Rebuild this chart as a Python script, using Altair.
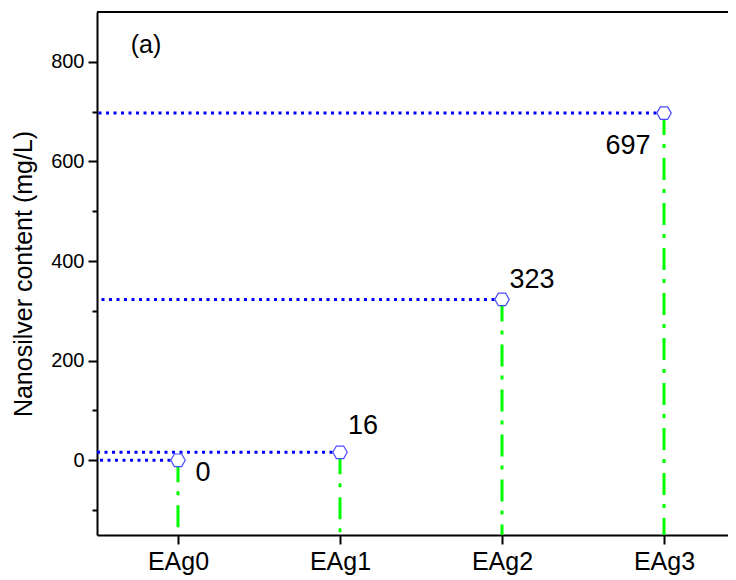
import altair as alt
import pandas as pd

categories = ["EAg0", "EAg1", "EAg2", "EAg3"]
values = [0, 16, 323, 697]
labels = ["0", "16", "323", "697"]
panel_label = ["(a)"]

df = pd.DataFrame({"idx": list(range(len(categories))), "cat": categories,
                   "value": values, "label": labels})
df_panel = pd.DataFrame({"t": panel_label})

W, H = 631, 523
FONT = "Liberation Sans"
XMIN, XMAX = -0.5, 3.395
YMIN, YMAX = -150, 900

hexagon = "M-1,0L-0.5,-0.866L0.5,-0.866L1,0L0.5,0.866L-0.5,0.866Z"

label_expr = "[" + ",".join("'%s'" % c for c in categories) + "][datum.value]"

x_enc = alt.X("idx:Q", scale=alt.Scale(domain=[XMIN, XMAX], nice=False, zero=False),
              axis=alt.Axis(values=list(range(len(categories))), labelExpr=label_expr,
                            title=None, grid=False, domainColor="black", domainWidth=2,
                            tickColor="black", tickWidth=2, tickSize=9,
                            labelFont=FONT, labelFontSize=25, labelColor="black",
                            labelPadding=5))
y_enc = alt.Y("value:Q", scale=alt.Scale(domain=[YMIN, YMAX], nice=False, zero=False),
              axis=alt.Axis(values=list(range(-100, 900, 100)),
                            labelExpr="datum.value % 200 === 0 ? datum.label : ''",
                            title="Nanosilver content (mg/L)", grid=False,
                            domainColor="black", domainWidth=2,
                            tickColor="black", tickWidth=2,
                            tickSize={"condition": {"test": "datum.value % 200 === 0", "value": 9}, "value": 5},
                            labelFont=FONT, labelFontSize=20, labelColor="black",
                            labelPadding=4, titleFont=FONT, titleFontSize=25,
                            titleFontWeight="normal", titleColor="black", titlePadding=14))

base = alt.Chart(df)

vlines = base.mark_rule(color="#00FF00", strokeWidth=3, strokeDash=[22, 9, 4, 10]).encode(
    x=x_enc, y=y_enc, y2=alt.value(H))
hlines = base.mark_rule(color="#0000FF", strokeWidth=3, strokeDash=[3, 4.5]).encode(
    x="idx:Q", x2=alt.value(0), y="value:Q")
points = base.mark_point(shape=hexagon, size=210, filled=True, fill="white",
                         stroke="#4a4aff", strokeWidth=1.2, opacity=1).encode(
    x="idx:Q", y="value:Q")

offsets = [(25, 13), (23, -26), (30, -19), (-36, 33)]
texts = []
for i, (dx, dy) in enumerate(offsets):
    texts.append(base.transform_filter(alt.datum.idx == i).mark_text(
        dx=dx, dy=dy, font=FONT, fontSize=27, fontWeight="normal", color="black",
        align="center", baseline="middle").encode(x="idx:Q", y="value:Q", text="label:N"))

frame_top = alt.Chart(df_panel).mark_rule(color="black", strokeWidth=2).encode(
    x=alt.value(0), x2=alt.value(W), y=alt.value(0))
panel = alt.Chart(df_panel).mark_text(font=FONT, fontSize=25, fontWeight="normal", color="black",
                                      align="center", baseline="middle").encode(
    x=alt.value(49), y=alt.value(33), text="t:N")

chart = alt.layer(vlines, hlines, points, *texts, frame_top, panel).properties(
    width=W, height=H,
    autosize=alt.AutoSizeParams(type="none"),
    padding={"left": 89, "top": 4, "right": 0, "bottom": 45},
    background="white",
).configure_view(strokeWidth=0)

chart.save("out.html", embed_options={"renderer": "svg", "actions": False})
